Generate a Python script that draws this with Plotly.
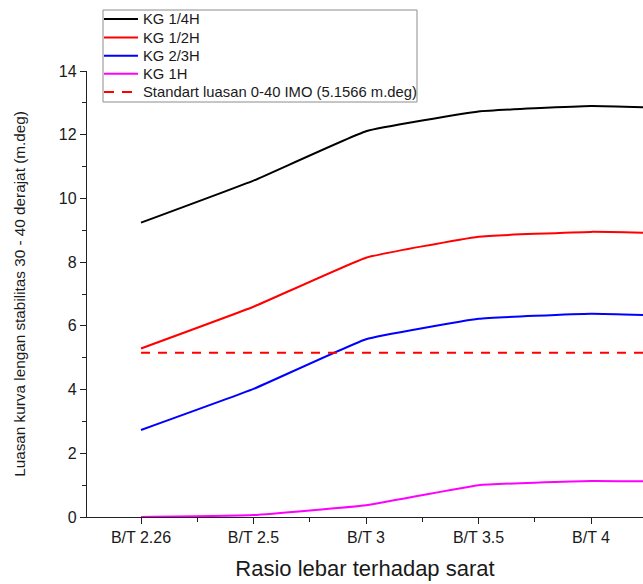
import plotly.graph_objects as go

# Width-to-draft ratio categories (the last one lies past the right edge of the view)
categories = ["B/T 2.26", "B/T 2.5", "B/T 3", "B/T 3.5", "B/T 4", "B/T 4.5"]

# Area under the GZ curve between 30 and 40 degrees (m.deg) for each KG position
kg_quarter = [9.24, 10.56, 12.11, 12.73, 12.90, 12.81]
kg_half = [5.29, 6.60, 8.14, 8.80, 8.95, 8.88]
kg_two_thirds = [2.73, 4.02, 5.58, 6.22, 6.38, 6.29]
kg_full = [0.00, 0.06, 0.37, 1.00, 1.13, 1.10]

imo_standard = 5.1566
imo_label = "Standart luasan 0-40 IMO (5.1566 m.deg)"

series_names = ["KG 1/4H", "KG 1/2H", "KG 2/3H", "KG 1H"]
series_colors = ["#000000", "#ff0000", "#0000ff", "#ff00ff"]
series_values = [kg_quarter, kg_half, kg_two_thirds, kg_full]

x_pos = list(range(len(categories)))
font_family = "Arial, Liberation Sans, sans-serif"
text_color = "#1a1a1a"

W, H = 643, 584
M_L, M_R, M_T, M_B = 87, 0, 71, 67
plot_w = W - M_L - M_R
plot_h = H - M_T - M_B


def px_x(px):
    """Page pixel column -> paper x."""
    return (px - M_L) / plot_w


def px_y(py):
    """Page pixel row -> paper y."""
    return (H - M_B - py) / plot_h


fig = go.Figure()
for name, color, vals in zip(series_names, series_colors, series_values):
    fig.add_trace(go.Scatter(
        x=x_pos, y=vals, mode="lines", name=name,
        line=dict(color=color, width=2, shape="spline", smoothing=0.3),
        showlegend=False,
    ))

fig.add_trace(go.Scatter(
    x=[x_pos[0], x_pos[-1]], y=[imo_standard, imo_standard], mode="lines",
    name=imo_label,
    line=dict(color="#ff0000", width=2, dash="9px,8px"),
    showlegend=False,
))

# Boxed legend in the upper-left corner
legend_rows = list(zip(series_names + [imo_label],
                       series_colors + ["#ff0000"],
                       ["solid"] * 4 + ["10px,8px"]))
row_y = [19, 37.5, 55.7, 73.8, 92]
shapes = [dict(type="rect", xref="paper", yref="paper",
               x0=px_x(103), x1=px_x(417), y0=px_y(102), y1=px_y(10),
               line=dict(color="#8c8c8c", width=1), fillcolor="white",
               layer="above")]
annotations = []
for (label, color, dash), ry in zip(legend_rows, row_y):
    shapes.append(dict(type="line", xref="paper", yref="paper",
                       x0=px_x(104), x1=px_x(138), y0=px_y(ry), y1=px_y(ry),
                       line=dict(color=color, width=2, dash=dash),
                       layer="above"))
    annotations.append(dict(xref="paper", yref="paper", x=px_x(141), y=px_y(ry),
                            xanchor="left", yanchor="middle", showarrow=False,
                            text=label,
                            font=dict(size=14.8, family=font_family, color=text_color)))

fig.update_layout(
    width=W, height=H,
    margin=dict(l=M_L, r=M_R, t=M_T, b=M_B),
    paper_bgcolor="white", plot_bgcolor="white",
    font=dict(family=font_family, color=text_color),
    showlegend=False,
    shapes=shapes,
    annotations=annotations,
)

fig.update_xaxes(
    range=[-0.48, 4.462],
    tickmode="array", tickvals=x_pos, ticktext=categories,
    ticks="outside", ticklen=6, tickwidth=1.3, tickcolor="#222",
    showline=True, linecolor="#222", linewidth=1.3,
    showgrid=False, zeroline=False, automargin=False,
    tickfont=dict(size=16, family=font_family, color=text_color),
    title=dict(text="Rasio lebar terhadap sarat", standoff=15,
               font=dict(size=22, family=font_family, color=text_color)),
    minor=dict(tick0=0.5, dtick=1, ticks="outside", ticklen=4,
               tickwidth=1.3, tickcolor="#222", showgrid=False),
)

fig.update_yaxes(
    range=[0, 14], dtick=2,
    ticks="outside", ticklen=6, tickwidth=1.3, tickcolor="#222",
    showline=True, linecolor="#222", linewidth=1.3,
    showgrid=False, zeroline=False, automargin=False,
    tickfont=dict(size=16, family=font_family, color=text_color),
    title=dict(text="Luasan kurva lengan stabilitas 30 - 40 derajat (m.deg)",
               standoff=29,
               font=dict(size=15.3, family=font_family, color=text_color)),
    minor=dict(dtick=1, ticks="outside", ticklen=4, tickwidth=1.3,
               tickcolor="#222", showgrid=False),
)

fig.write_html("out.html")
